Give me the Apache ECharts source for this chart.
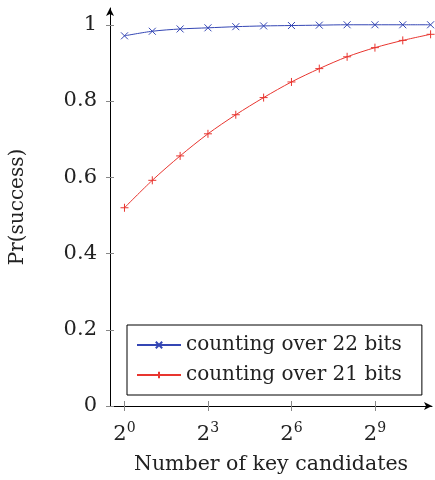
<!DOCTYPE html>
<html><head><meta charset="utf-8">
<script src="https://cdn.jsdelivr.net/npm/echarts@6/dist/echarts.min.js"></script>
<style>html,body{margin:0;padding:0;background:#fff}#c{width:435px;height:480px}</style>
</head><body><div id="c"></div>
<script>
const exponents = [0,1,2,3,4,5,6,7,8,9,10,11];
const bits22 = [0.971,0.983,0.989,0.992,0.995,0.997,0.998,0.999,1.0,1.0,1.0,1.0];
const bits21 = [0.520,0.592,0.656,0.714,0.764,0.809,0.850,0.885,0.916,0.940,0.959,0.975];
const xTicks = [0,3,6,9];
const yTicks = [0,0.2,0.4,0.6,0.8,1];
const seriesNames = ['counting over 22 bits','counting over 21 bits'];

const FONT = 'DejaVu Serif';
const blue = '#3446b4', red = '#e8352f';
const xMark = 'path://M0,0L10,10M10,0L0,10';
const plusMark = 'path://M5,0L5,10M0,5L10,5';

const chart = echarts.init(document.getElementById('c'));
const yCommon = {type:'value', min:0, max:1.044, position:'left'};
const xCommon = {type:'value', min:-0.52, max:11.05, position:'bottom'};
chart.setOption({
  animation:false,
  grid:{left:108, right:3, top:8, bottom:71},
  textStyle:{fontFamily:FONT},
  xAxis:[
    Object.assign({}, xCommon, {
      name:'Number of key candidates', nameLocation:'middle', nameGap:48,
      nameTextStyle:{fontFamily:FONT, fontSize:20.5, color:'#222'},
      axisLine:{show:true, onZero:false, lineStyle:{color:'#000', width:1}, symbol:['none','arrow'], symbolSize:[6,8]},
      axisTick:{show:true, customValues:xTicks, length:5, lineStyle:{color:'#888'}},
      axisLabel:{customValues:xTicks, margin:15, color:'#222',
        formatter:v=>'{b|2}{s|' + String(v) + '}',
        rich:{b:{fontFamily:FONT,fontSize:21,lineHeight:24,color:'#222',verticalAlign:'bottom'},
              s:{fontFamily:FONT,fontSize:14,lineHeight:14,color:'#222',verticalAlign:'top'}}},
      splitLine:{show:false}
    }),
    Object.assign({}, xCommon, {
      axisLine:{show:false, onZero:false}, axisLabel:{show:false}, splitLine:{show:false},
      axisTick:{show:true, inside:true, customValues:xTicks, length:5, lineStyle:{color:'#888'}}
    })
  ],
  yAxis:[
    Object.assign({}, yCommon, {
      name:'Pr(success)', nameLocation:'middle', nameGap:82,
      nameTextStyle:{fontFamily:FONT, fontSize:20, color:'#222'},
      axisLine:{show:true, onZero:false, lineStyle:{color:'#000', width:1}, symbol:['none','arrow'], symbolSize:[6,8]},
      axisTick:{show:true, customValues:yTicks, length:4, lineStyle:{color:'#888'}},
      axisLabel:{customValues:yTicks, margin:13, fontFamily:FONT, fontSize:21, color:'#222',
        padding:[5,0,0,0],
        formatter:v=>String(Math.round(v*10)/10)},
      splitLine:{show:false}
    }),
    Object.assign({}, yCommon, {
      axisLine:{show:false, onZero:false}, axisLabel:{show:false}, splitLine:{show:false},
      axisTick:{show:true, inside:true, customValues:yTicks, length:4, lineStyle:{color:'#888'}}
    })
  ],
  legend:{
    orient:'vertical', left:127, top:325,
    padding:[9,20,9,9], itemGap:8, itemWidth:44, itemHeight:8,
    borderColor:'#000', borderWidth:1, backgroundColor:'#fff', borderRadius:0,
    textStyle:{fontFamily:FONT, fontSize:20, color:'#222', lineHeight:22},
    data:seriesNames
  },
  series:[
    {name:seriesNames[0], type:'line', smooth:0.3,
     data:exponents.map((e,i)=>[e,bits22[i]]),
     symbol:xMark, symbolSize:7, showAllSymbol:true,
     lineStyle:{color:blue,width:1}, itemStyle:{color:blue,borderColor:blue,borderWidth:1}},
    {name:seriesNames[1], type:'line', smooth:0.3,
     data:exponents.map((e,i)=>[e,bits21[i]]),
     symbol:plusMark, symbolSize:8, showAllSymbol:true,
     lineStyle:{color:red,width:1}, itemStyle:{color:red,borderColor:red,borderWidth:1}}
  ]
});
</script></body></html>
